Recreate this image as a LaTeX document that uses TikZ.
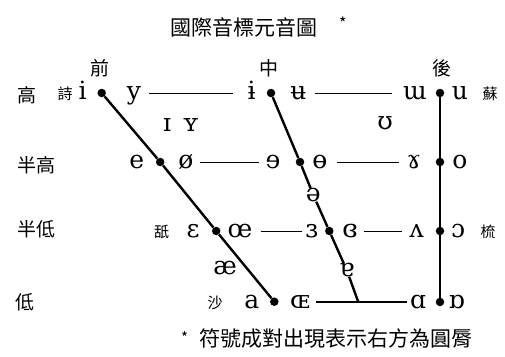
\documentclass[tikz,border=0pt]{standalone}
\usepackage{fontspec}
\newfontfamily\cjk{Noto Sans CJK TC}
\newfontfamily\ipafont{DejaVu Serif}
\usepackage{tikz}
\usetikzlibrary{positioning}

\begin{document}
\begin{tikzpicture}[x=1pt, y=-1pt,
    ipa/.style={font=\ipafont\fontsize{25}{25}\selectfont, text height=13pt, text depth=0pt, inner xsep=3pt, inner ysep=0pt},
    dot/.style={circle, fill, inner sep=0pt, minimum size=8.5pt},
    rowlab/.style={font=\cjk\fontsize{19}{19}\selectfont},
    word/.style={font=\cjk\fontsize{15}{15}\selectfont},
    hline/.style={line width=1pt},
    vline/.style={line width=2.4pt}]
    \useasboundingbox (0,0) rectangle (505,356);

    % Title
    \node[anchor=west, inner sep=0pt, font=\cjk\fontsize{21}{21}\selectfont] (title) at (170,27) {國際音標元音圖\hspace{22pt}\raisebox{0.55ex}{\fontsize{16}{16}\selectfont *}};

    % Column and row labels
    \node[rowlab] (front) at (100,68) {前};
    \node[rowlab] (central) at (269,68) {中};
    \node[rowlab] (back) at (441.7,68) {後};
    \node[rowlab] (close) at (26.7,95) {高};
    \node[rowlab] (closemid) at (36,165) {半高};
    \node[rowlab] (openmid) at (36,229) {半低};
    \node[rowlab] (open) at (25,302) {低};

    % Example words
    \node[word] (shi) at (65,94) {詩};
    \node[word] (su) at (490,94) {蘇};
    \node[word] (shih) at (161.7,232) {舐};
    \node[word] (shu) at (488,232) {梳};
    \node[word] (sha) at (215,303) {沙};

    % Dots
    \node[dot] (f1) at (101.7,93) {};
    \node[dot] (f2) at (160.2,162) {};
    \node[dot] (f3) at (216.2,231) {};
    \node[dot] (f4) at (274.3,301.7) {};
    \node[dot] (c1) at (271,93) {};
    \node[dot] (c2) at (300,162) {};
    \node[dot] (c3) at (329.3,231) {};
    \coordinate (cj) at (358.3,302);
    \node[dot] (b1) at (440,93) {};
    \node[dot] (b2) at (440,162) {};
    \node[dot] (b3) at (440,231) {};
    \node[dot] (b4) at (440,302) {};

    % Close vowels
    \node[ipa] (vi) at (82.7,93) {i};
    \node[ipa] (vy) at (134,93) {y};
    \node[ipa] (vbi) at (251.7,93) {ɨ};
    \node[ipa] (vbu) at (298.3,93) {ʉ};
    \node[ipa] (vmu) at (415,93) {ɯ};
    \node[ipa] (vu) at (460,93) {u};
    \node[ipa] (vsi) at (167,125) {ɪ};
    \node[ipa] (vsy) at (190.7,125) {ʏ};
    \node[ipa] (vup) at (385,123) {ʊ};

    % Close-mid vowels
    \node[ipa] (ve) at (136.7,162) {e};
    \node[ipa] (vo) at (186,162) {ø};
    \node[ipa] (vre) at (273,162) {ɘ};
    \node[ipa] (vbo) at (320,162) {ɵ};
    \node[ipa] (vga) at (414,162) {ɤ};
    \node[ipa] (vro) at (460,162) {o};
    \node[ipa] (schwa) at (313.3,195) {ə};

    % Open-mid vowels
    \node[ipa] (veps) at (193,231) {ɛ};
    \node[ipa] (voe) at (240,231) {œ};
    \node[ipa] (vreps) at (311.7,231) {ɜ};
    \node[ipa] (vceps) at (350,231) {ɞ};
    \node[ipa] (vwv) at (416.7,231) {ʌ};
    \node[ipa] (voo) at (458,231) {ɔ};
    \node[ipa] (vae) at (225,268) {æ};
    \node[ipa] (vta) at (346.7,270) {ɐ};

    % Open vowels
    \node[ipa] (va) at (251.7,302) {a};
    \node[ipa] (vcoe) at (300,302) {ɶ};
    \node[ipa] (vsa) at (418,302) {ɑ};
    \node[ipa] (vta2) at (456.7,302) {ɒ};

    % Horizontal lines
    \draw[hline, shorten <=5pt, shorten >=12pt] (vy) -- (vbi);
    \draw[hline, shorten <=5pt, shorten >=8pt] (vbu) -- (vmu);
    \draw[hline, shorten <=3pt, shorten >=3pt] (vo) -- (vre);
    \draw[hline, shorten <=6pt, shorten >=5pt] (vbo) -- (vga);
    \draw[hline, shorten <=5pt] (voe) -- (vreps);
    \draw[hline, shorten <=3pt, shorten >=4pt] (vceps) -- (vwv);
    \draw[vline, shorten <=3pt] (vcoe) -- (vsa);

    % Front, central and back lines
    \draw[vline] (f1) -- (f2) -- (f3) -- (f4);
    \draw[vline] (c1) -- (c2) -- (schwa);
    \draw[vline] (schwa) -- (c3) -- (vta);
    \draw[vline] (vta) -- (cj);
    \draw[vline] (b1) -- (b4);

    % Footnote
    \node[anchor=west, inner sep=0pt, font=\cjk\fontsize{21}{21}\selectfont] (note) at (181,339) {\raisebox{0.3ex}{\fontsize{15}{15}\selectfont *}\hspace{11pt}符號成對出現表示右方為圓脣};
\end{tikzpicture}
\end{document}
